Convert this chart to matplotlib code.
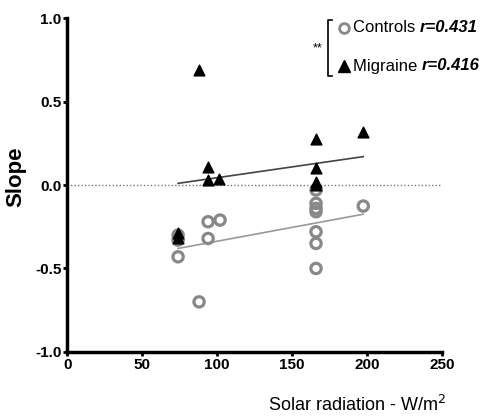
import numpy as np
import matplotlib
matplotlib.use("Agg")
import matplotlib.pyplot as plt
from matplotlib.lines import Line2D

plt.rcParams['font.family'] = ['Liberation Sans', 'DejaVu Sans']

# solar radiation (W/m2) vs slope for each group
ctrl_x = [74, 74, 74, 88, 94, 94, 102, 166, 166, 166, 166, 166, 166, 166, 197.5]
ctrl_y = [-0.30, -0.33, -0.43, -0.70, -0.22, -0.32, -0.21, -0.03, -0.11, -0.14, -0.16, -0.28, -0.35, -0.50, -0.126]
migr_x = [74, 74, 88, 94, 94, 101.5, 166, 166, 166, 166, 197.5]
migr_y = [-0.29, -0.32, 0.69, 0.11, 0.03, 0.036, 0.275, 0.10, 0.02, 0.0, 0.32]

# regression lines (start/end x, start/end y)
ctrl_fit_x = [74, 197.5]
ctrl_fit_y = [-0.38, -0.175]
migr_fit_x = [74, 197.5]
migr_fit_y = [0.01, 0.17]

xticks = [0, 50, 100, 150, 200, 250]
yticks = [-1.0, -0.5, 0.0, 0.5, 1.0]

W, H = 490, 420
fig = plt.figure(figsize=(4.9, 4.2), dpi=100)
ax = fig.add_axes([0.137, 0.162, 0.765, 0.795])

def px(x, y):
    # pixel position -> figure fraction
    return x / W, 1 - y / H

ax.axhline(0, color='#777777', lw=1, ls=(0, (1, 1.5)), zorder=1)
ax.plot(ctrl_fit_x, ctrl_fit_y, color='#999999', lw=1.2, zorder=2)
ax.plot(migr_fit_x, migr_fit_y, color='#444444', lw=1.2, zorder=2)

ax.scatter(ctrl_x, ctrl_y, s=55, facecolors='none', edgecolors='#888888', linewidths=2.3, zorder=3)
ax.scatter(migr_x, migr_y, s=60, marker='^', color='black', zorder=4)

ax.set_xlim(0, 250)
ax.set_ylim(-1.0, 1.0)
ax.set_xticks(xticks)
ax.set_yticks(yticks)
ax.set_yticklabels(['%.1f' % v for v in yticks])
for s in ['top', 'right']:
    ax.spines[s].set_visible(False)
for s in ['left', 'bottom']:
    ax.spines[s].set_linewidth(2.5)
ax.tick_params(width=2, length=3, labelsize=11, pad=1)
for lab in ax.get_xticklabels() + ax.get_yticklabels():
    lab.set_fontweight('bold')

ax.set_ylabel('Slope', fontsize=16, fontweight='bold', va='center')
ax.yaxis.set_label_coords(-0.136, 0.524)
fig.text(*px(446, 415), 'Solar radiation - W/m$^2$', ha='right', va='bottom', fontsize=13)

# legend with significance bracket
fig.add_artist(Line2D([px(344, 0)[0]], [px(0, 28)[1]], marker='o', ms=7, mfc='none',
                      mec='#888888', mew=2.0, ls='none'))
fig.add_artist(Line2D([px(344, 0)[0]], [px(0, 66)[1]], marker='^', ms=8, color='black', ls='none'))
t1 = fig.text(*px(353, 28), 'Controls ', fontsize=12, va='center')
t2 = fig.text(*px(353, 66), 'Migraine ', fontsize=12, va='center')
for t, r in [(t1, 'r=0.431'), (t2, 'r=0.416')]:
    ax.annotate(r, xy=(1, 0.5), xycoords=t, va='center', ha='left', fontsize=12,
                style='italic', fontweight='bold', annotation_clip=False)
bx0, by0 = px(332, 20)
bx1, by1 = px(328, 76)
fig.add_artist(Line2D([bx0, bx1, bx1, bx0], [by0, by0, by1, by1], color='black', lw=1.2))
fig.text(*px(322, 48), '**', fontsize=9, ha='right', va='center')

fig.savefig('out.png', dpi=100)
